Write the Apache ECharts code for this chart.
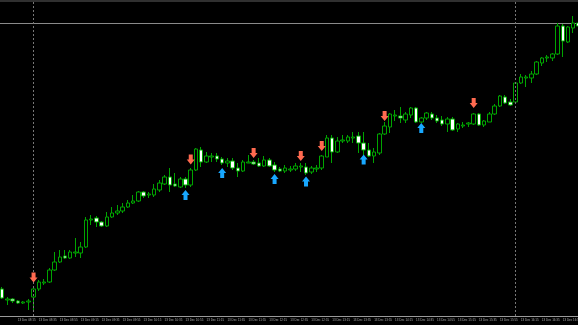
<!DOCTYPE html>
<html>
<head>
<meta charset="utf-8">
<script src="https://cdn.jsdelivr.net/npm/echarts@6/dist/echarts.min.js"></script>
<style>
html,body{margin:0;padding:0;background:#000;}
#chart{width:578px;height:325px;}
</style>
</head>
<body>
<div id="chart"></div>
<script>
// M5 candles, 13 Dec
const startMinutes = 8 * 60; // 08:00
const stepMinutes = 5;
const candleCount = 111;

const open = [1.2711,1.2700,1.2701,1.2699,1.2697,1.2698,1.2703,1.2711,1.2717,1.2718,
1.2730,1.2738,1.2744,1.2742,1.2747,1.2747,1.2753,1.2780,1.2782,1.2778,
1.2774,1.2783,1.2787,1.2789,1.2793,1.2797,1.2799,1.2808,1.2805,1.2805,
1.2810,1.2816,1.2823,1.2816,1.2813,1.2821,1.2815,1.2830,1.2850,1.2838,
1.2843,1.2844,1.2841,1.2837,1.2839,1.2832,1.2829,1.2837,1.2838,1.2837,
1.2834,1.2840,1.2835,1.2831,1.2829,1.2830,1.2831,1.2833,1.2833,1.2828,
1.2831,1.2832,1.2843,1.2862,1.2848,1.2859,1.2859,1.2862,1.2864,1.2857,
1.2850,1.2844,1.2847,1.2866,1.2873,1.2884,1.2884,1.2880,1.2885,1.2892,
1.2878,1.2882,1.2886,1.2882,1.2880,1.2876,1.2881,1.2871,1.2874,1.2876,
1.2876,1.2886,1.2875,1.2878,1.2886,1.2894,1.2903,1.2898,1.2898,1.2917,
1.2922,1.2922,1.2926,1.2937,1.2942,1.2942,1.2946,1.2974,1.2958,1.2972,1.2977];

const close = [1.2702,1.2701,1.2699,1.2697,1.2698,1.2699,1.2711,1.2718,1.2718,1.2730,
1.2738,1.2743,1.2742,1.2748,1.2748,1.2753,1.2780,1.2781,1.2778,1.2774,
1.2783,1.2787,1.2789,1.2793,1.2797,1.2799,1.2808,1.2804,1.2806,1.2811,
1.2817,1.2823,1.2815,1.2814,1.2821,1.2815,1.2830,1.2851,1.2838,1.2844,
1.2844,1.2841,1.2837,1.2839,1.2832,1.2829,1.2838,1.2838,1.2836,1.2834,
1.2840,1.2834,1.2830,1.2829,1.2832,1.2831,1.2834,1.2834,1.2827,1.2832,
1.2832,1.2844,1.2862,1.2848,1.2859,1.2860,1.2863,1.2863,1.2857,1.2850,
1.2844,1.2848,1.2866,1.2874,1.2886,1.2885,1.2882,1.2886,1.2892,1.2878,
1.2882,1.2887,1.2882,1.2879,1.2876,1.2881,1.2870,1.2876,1.2875,1.2877,
1.2886,1.2875,1.2879,1.2886,1.2894,1.2904,1.2897,1.2895,1.2917,1.2923,
1.2923,1.2926,1.2938,1.2942,1.2943,1.2946,1.2974,1.2959,1.2973,1.2977,1.2974];

const low = [1.2701,1.2695,1.2697,1.2696,1.2696,1.2690,1.2690,1.2709,1.2715,1.2717,
1.2729,1.2737,1.2741,1.2741,1.2743,1.2742,1.2752,1.2775,1.2773,1.2773,
1.2773,1.2782,1.2785,1.2787,1.2792,1.2796,1.2798,1.2802,1.2802,1.2803,
1.2808,1.2815,1.2808,1.2813,1.2812,1.2812,1.2813,1.2829,1.2833,1.2837,
1.2838,1.2838,1.2835,1.2833,1.2830,1.2823,1.2828,1.2837,1.2835,1.2833,
1.2833,1.2833,1.2828,1.2828,1.2827,1.2828,1.2829,1.2828,1.2825,1.2826,
1.2828,1.2830,1.2843,1.2837,1.2847,1.2857,1.2857,1.2857,1.2847,1.2845,
1.2843,1.2837,1.2845,1.2865,1.2867,1.2879,1.2877,1.2877,1.2882,1.2877,
1.2877,1.2880,1.2880,1.2877,1.2874,1.2868,1.2869,1.2868,1.2872,1.2873,
1.2875,1.2874,1.2873,1.2878,1.2885,1.2893,1.2896,1.2894,1.2897,1.2916,
1.2913,1.2917,1.2925,1.2934,1.2938,1.2939,1.2945,1.2943,1.2957,1.2967,1.2973];

const high = [1.2713,1.2703,1.2702,1.2700,1.2699,1.2701,1.2713,1.2720,1.2721,1.2732,
1.2748,1.2750,1.2750,1.2750,1.2762,1.2758,1.2783,1.2785,1.2784,1.2779,
1.2788,1.2793,1.2795,1.2797,1.2800,1.2805,1.2809,1.2809,1.2808,1.2816,
1.2820,1.2825,1.2832,1.2827,1.2823,1.2823,1.2832,1.2852,1.2853,1.2848,
1.2847,1.2847,1.2843,1.2842,1.2842,1.2837,1.2840,1.2845,1.2840,1.2842,
1.2844,1.2842,1.2838,1.2833,1.2835,1.2834,1.2837,1.2837,1.2837,1.2834,
1.2835,1.2845,1.2865,1.2865,1.2863,1.2865,1.2865,1.2868,1.2868,1.2868,
1.2857,1.2852,1.2867,1.2878,1.2887,1.2890,1.2893,1.2888,1.2893,1.2893,
1.2883,1.2888,1.2888,1.2885,1.2884,1.2883,1.2883,1.2877,1.2878,1.2878,
1.2887,1.2887,1.2880,1.2888,1.2896,1.2905,1.2905,1.2901,1.2917,1.2926,
1.2925,1.2929,1.2939,1.2943,1.2945,1.2947,1.2977,1.2976,1.2974,1.2984,1.2980];

// signal arrows: [candle index, price]
const sellSignals = [[6,1.27225],[36,1.28405],[48,1.2847],[57,1.2844],[61,1.2854],[73,1.2884],[90,1.2897]];
const buySignals  = [[35,1.2805],[42,1.2827],[52,1.2821],[58,1.28185],[69,1.28405],[80,1.2872]];

const priceLevel = 1.2977;
const separatorIdx = [6, 98];
const priceMin = 1.2684, priceMax = 1.3000;

function pad(n){ return (n < 10 ? '0' : '') + n; }
const categories = [];
for (let i = 0; i < candleCount; i++) {
  const t = startMinutes + i * stepMinutes;
  categories.push('13 Dec ' + pad(Math.floor(t / 60)) + ':' + pad(t % 60));
}
const ohlc = open.map((o, i) => [o, close[i], low[i], high[i]]);

const GREEN = '#00a400';
const chart = echarts.init(document.getElementById('chart'), null, {renderer: 'canvas'});
chart.setOption({
  backgroundColor: '#000000',
  animation: false,
  grid: { left: -0.5, top: 0, right: -3.1, bottom: 9, containLabel: false, outerBoundsMode: 'none' },
  xAxis: {
    type: 'category',
    data: categories,
    boundaryGap: true,
    axisLine: { show: true, lineStyle: { color: '#9a9a9a', width: 1 } },
    axisTick: { show: false },
    splitLine: { show: false },
    axisLabel: {
      interval: function (idx) { return idx >= 3 && (idx - 3) % 4 === 0; },
      align: 'left',
      color: '#a8a8a8',
      fontSize: 3,
      fontFamily: 'Liberation Sans',
      margin: 3
    }
  },
  yAxis: {
    type: 'value',
    min: priceMin,
    max: priceMax,
    show: false,
    splitLine: { show: false }
  },
  series: [{
    type: 'candlestick',
    data: ohlc,
    barWidth: 4,
    itemStyle: {
      color: '#000000',
      color0: '#ffffff',
      borderColor: GREEN,
      borderColor0: GREEN,
      borderWidth: 1
    },
    markLine: {
      silent: true,
      symbol: ['none', 'none'],
      label: { show: false },
      animation: false,
      data: [
        { xAxis: categories[separatorIdx[0]], lineStyle: { color: '#777777', type: [2, 2], width: 1 } },
        { xAxis: categories[separatorIdx[1]], lineStyle: { color: '#777777', type: [2, 2], width: 1 } }
      ]
    }
  }, {
    type: 'scatter',
    data: sellSignals,
    symbol: 'path://M2.5,0 L7.5,0 L7.5,5 L10,5 L5,10 L0,5 L2.5,5 Z',
    symbolSize: [8, 10],
    itemStyle: { color: '#ff6a50', opacity: 1 },
    z: 5
  }, {
    type: 'scatter',
    data: buySignals,
    symbol: 'path://M5,0 L10,5 L7.5,5 L7.5,10 L2.5,10 L2.5,5 L0,5 Z',
    symbolSize: [8, 10],
    itemStyle: { color: '#18a8ff', opacity: 1 },
    z: 5
  }]
});

// price level line (position from the library's y scale) and top frame band
const levelY = Math.round(chart.convertToPixel({ yAxisIndex: 0 }, priceLevel)) + 0.5;
chart.setOption({
  graphic: [{
    type: 'rect', shape: { x: 0, y: 0, width: 578, height: 2 },
    style: { fill: '#303030' }, silent: true, z: 100
  }, {
    type: 'line', shape: { x1: 0, y1: levelY, x2: 578, y2: levelY },
    style: { stroke: '#8a8a8a', lineWidth: 1 }, silent: true, z: 1
  }]
});
</script>
</body>
</html>
